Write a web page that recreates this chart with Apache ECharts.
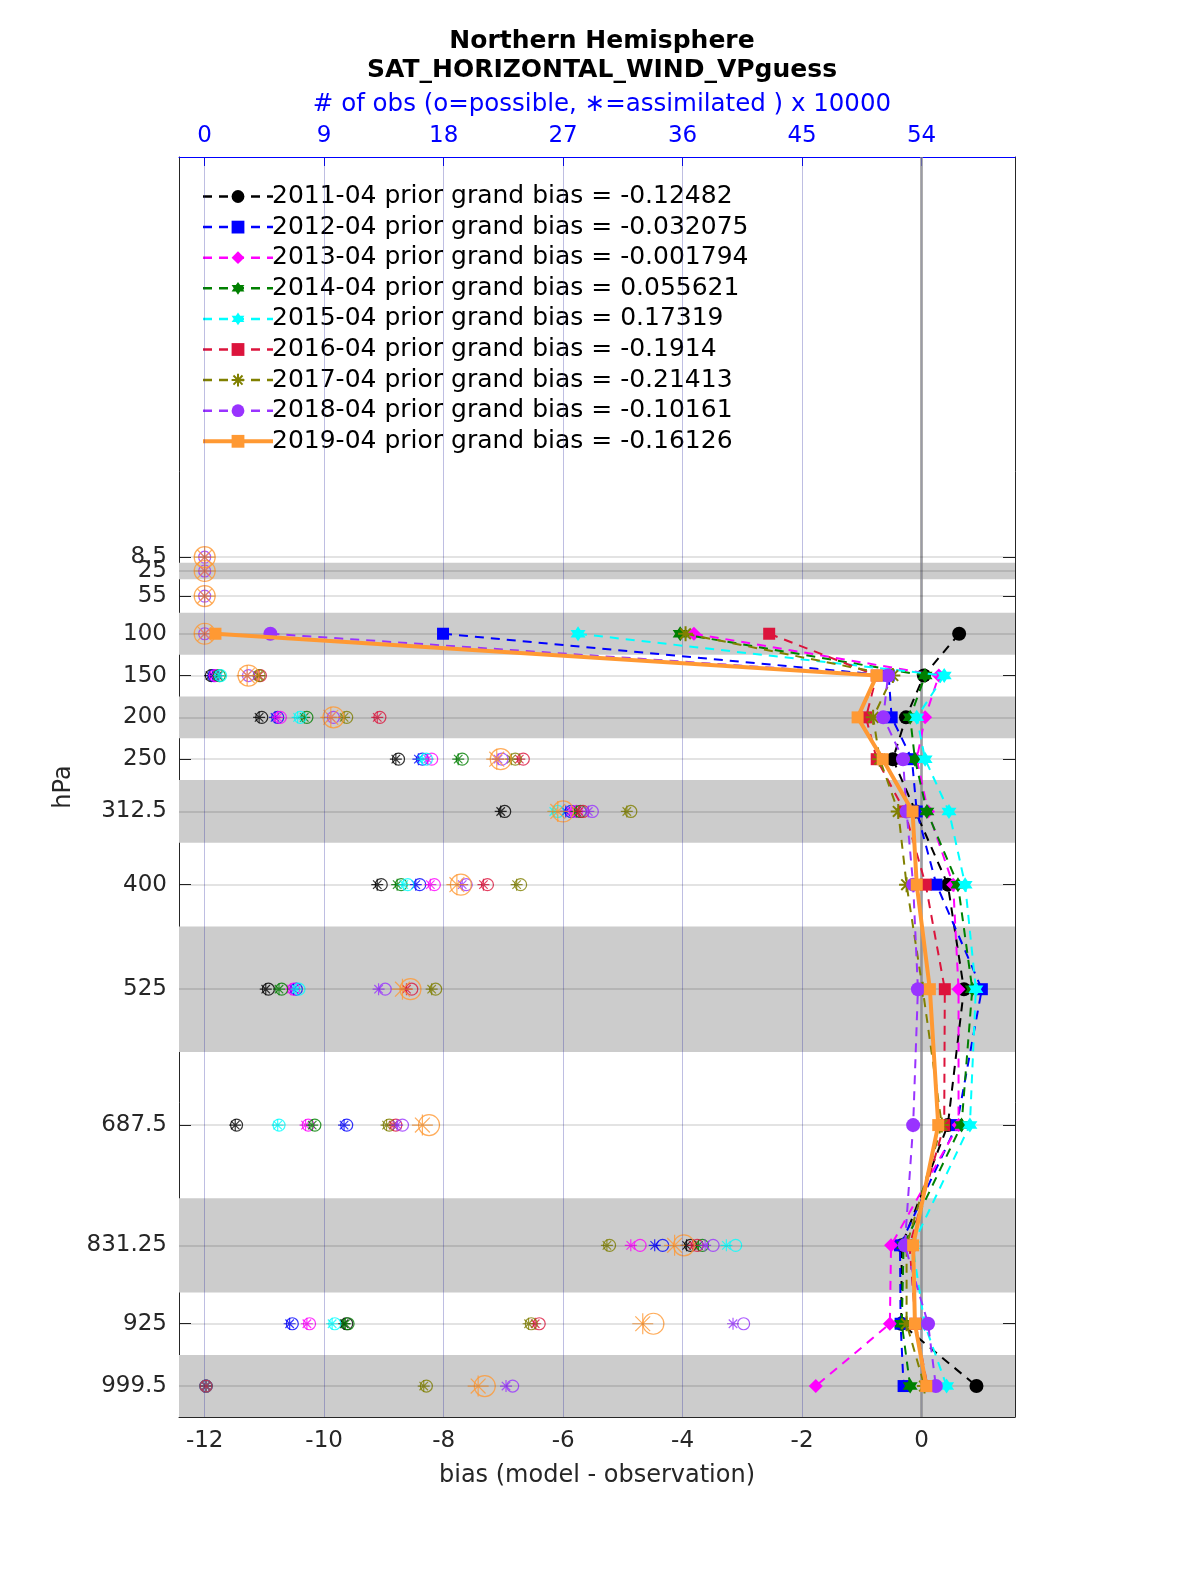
<!DOCTYPE html>
<html>
<head>
<meta charset="utf-8">
<script src="https://cdn.jsdelivr.net/npm/echarts@6/dist/echarts.min.js"></script>
<style>
html,body{margin:0;padding:0;background:#fff;}
#chart{width:1200px;height:1575px;}
</style>
</head>
<body>
<div id="chart"></div>
<script>
// ---------------- data ----------------
const levels = [8.5, 25, 55, 100, 150, 200, 250, 312.5, 400, 525, 687.5, 831.25, 925, 999.5];
const levelLabels = ['8.5', '25', '55', '100', '150', '200', '250', '312.5', '400', '525', '687.5', '831.25', '925', '999.5'];
const biasTicks = [-12, -10, -8, -6, -4, -2, 0];
const obsTicks = [0, 9, 18, 27, 36, 45, 54];
const layerBands = [[15, 35], [75, 125], [175, 225], [275, 350], [450, 600], [775, 887.5], [962.5, 1036.5]];

const years = ['2011-04', '2012-04', '2013-04', '2014-04', '2015-04', '2016-04', '2017-04', '2018-04', '2019-04'];
const grandBias = ['-0.12482', '-0.032075', '-0.001794', '0.055621', '0.17319', '-0.1914', '-0.21413', '-0.10161', '-0.16126'];

// bias (model - observation) per level
const bias2011 = [null, null, null, 0.63, 0.04, -0.26, -0.48, -0.10, 0.44, 0.71, 0.44, -0.33, -0.34, 0.92];
const bias2012 = [null, null, null, -8.01, -0.55, -0.50, -0.16, -0.08, 0.25, 1.01, 0.59, -0.36, -0.35, -0.30];
const bias2013 = [null, null, null, -3.81, 0.29, 0.06, -0.08, 0.11, 0.53, 0.62, 0.62, -0.51, -0.53, -1.77];
const bias2014 = [null, null, null, -4.04, 0.06, -0.19, -0.11, 0.09, 0.61, 0.85, 0.67, -0.30, -0.33, -0.19];
const bias2015 = [null, null, null, -5.75, 0.38, -0.08, 0.06, 0.46, 0.73, 0.91, 0.81, -0.15, 0.05, 0.42];
const bias2016 = [null, null, null, -2.55, -0.75, -0.93, -0.75, -0.28, 0.07, 0.39, 0.38, -0.20, -0.10, 0.10];
const bias2017 = [null, null, null, -3.95, -0.48, -0.81, -0.70, -0.39, -0.25, 0.02, 0.34, -0.25, -0.25, 0.05];
const bias2018 = [null, null, null, -10.90, -0.56, -0.64, -0.31, -0.25, -0.14, -0.06, -0.14, -0.28, 0.11, 0.24];
const bias2019 = [null, null, null, -11.82, -0.75, -1.07, -0.65, -0.15, -0.08, 0.14, 0.28, -0.14, -0.11, 0.08];

// number of observations (x 10000): possible (o)
const poss2011 = [null, null, null, null, 0.5, 4.3, 14.6, 22.6, 13.3, 4.8, 2.4, 36.6, 10.7, 0.1];
const poss2012 = [null, null, null, null, 0.7, 5.5, 16.4, 27.6, 16.2, 6.9, 10.7, 34.5, 6.6, 0.1];
const poss2013 = [null, null, null, null, 0.8, 5.7, 17.1, 28.0, 17.3, 6.7, 7.8, 32.8, 7.9, 0.1];
const poss2014 = [null, null, null, null, 1.1, 7.7, 19.4, 28.3, 14.8, 5.8, 8.3, 37.5, 10.8, 0.1];
const poss2015 = [null, null, null, null, 1.2, 7.2, 16.7, 26.6, 15.3, 7.1, 5.6, 40.0, 9.8, 0.1];
const poss2016 = [null, null, null, null, 4.2, 13.2, 24.0, 28.5, 21.3, 15.6, 14.4, 37.1, 25.2, 0.1];
const poss2017 = [null, null, null, null, 4.1, 10.7, 23.4, 32.1, 23.8, 17.4, 13.9, 30.5, 24.6, 16.7];
const poss2018 = [0, 0, 0, 0, 3.3, 9.7, 22.4, 29.2, 19.7, 13.6, 14.9, 38.3, 40.6, 23.2];
const poss2019 = [0, 0, 0, 0, 3.3, 9.7, 22.3, 27.0, 19.3, 15.5, 16.9, 36.1, 33.8, 21.1];

// number of observations (x 10000): assimilated (*)
const assim2011 = [null, null, null, null, 0.4, 4.1, 14.4, 22.3, 13.0, 4.6, 2.3, 36.3, 10.5, 0.1];
const assim2012 = [null, null, null, null, 0.6, 5.3, 16.1, 27.2, 15.9, 6.7, 10.5, 33.9, 6.4, 0.1];
const assim2013 = [null, null, null, null, 0.7, 5.5, 16.8, 27.6, 17.0, 6.5, 7.6, 32.1, 7.7, 0.1];
const assim2014 = [null, null, null, null, 1.0, 7.5, 19.1, 28.0, 14.5, 5.6, 8.1, 37.2, 10.6, 0.1];
const assim2015 = [null, null, null, null, 1.1, 7.0, 16.4, 26.3, 15.0, 6.9, 5.5, 39.3, 9.6, 0.1];
const assim2016 = [null, null, null, null, 4.1, 13.0, 23.7, 28.2, 21.0, 15.2, 14.2, 36.8, 24.9, 0.1];
const assim2017 = [null, null, null, null, 4.0, 10.5, 23.1, 31.8, 23.5, 17.1, 13.7, 30.3, 24.4, 16.5];
const assim2018 = [0, 0, 0, 0, 3.2, 9.5, 22.1, 28.9, 19.4, 13.1, 14.5, 37.7, 39.8, 22.7];
const assim2019 = [0, 0, 0, 0, 3.2, 9.5, 22.0, 26.6, 19.0, 14.9, 16.4, 35.4, 33.0, 20.6];

const biasSets = [bias2011, bias2012, bias2013, bias2014, bias2015, bias2016, bias2017, bias2018, bias2019];
const possSets = [poss2011, poss2012, poss2013, poss2014, poss2015, poss2016, poss2017, poss2018, poss2019];
const assimSets = [assim2011, assim2012, assim2013, assim2014, assim2015, assim2016, assim2017, assim2018, assim2019];

// ---------------- styles ----------------
const colors = ['#000000', '#0000ff', '#ff00ff', '#008000', '#00ffff', '#dc143c', '#808000', '#9933ff', '#ff9933'];
const hexagram = 'path://M0,-10L2.9,-5L8.7,-5L5.8,0L8.7,5L2.9,5L0,10L-2.9,5L-8.7,5L-5.8,0L-8.7,-5L-2.9,-5Z';
const asterisk = 'path://M0,-10L0,10M-10,0L10,0M-7.07,-7.07L7.07,7.07M-7.07,7.07L7.07,-7.07';
const markers = ['circle', 'rect', 'diamond', hexagram, hexagram, 'rect', asterisk, 'circle', 'rect'];
const markerSizes = [14, 12, 14, 15, 15, 12, 15, 14, 12];

const xMin = -12.43, xMax = 1.565;
const yMin = -470, yMax = 1036.5;
const obsPerBias = 4.5; // 9 (x10000) obs per 2 bias units, 0 obs at bias -12

const font = 'DejaVu Sans';
const txt = '#262626';
const legendNames = years.map((y, k) => y + ' prior grand bias = ' + grandBias[k]);

const series = [];

// background: layer bands, grid lines
series.push({
  name: '_bg', type: 'scatter', xAxisIndex: 0, yAxisIndex: 0, data: [], z: 1, silent: true,
  markArea: {
    silent: true,
    itemStyle: { color: '#cccccc' },
    data: layerBands.map(b => [{ yAxis: b[0] }, { yAxis: b[1] }])
  },
  markLine: {
    silent: true, symbol: ['none', 'none'], label: { show: false },
    animation: false,
    data: [
      ...biasTicks.map(v => ({ xAxis: v, lineStyle: { color: 'rgba(40,40,160,0.3)', width: 1, type: 'solid' } })),
      { xAxis: 0, lineStyle: { color: 'rgba(140,140,140,0.7)', width: 3, type: 'solid' } },
      ...levels.map(v => ({ yAxis: v, lineStyle: { color: 'rgba(0,0,0,0.15)', width: 1.5, type: 'solid' } }))
    ]
  }
});

years.forEach((y, k) => {
  const isLast = k === years.length - 1;
  const c = colors[k];
  const sym = markers[k];
  const isAst = sym === asterisk;
  series.push({
    name: legendNames[k],
    type: 'line',
    xAxisIndex: 0, yAxisIndex: 0,
    data: levels.map((p, i) => [biasSets[k][i], p]),
    z: 5 + k,
    symbol: sym,
    symbolSize: markerSizes[k],
    showAllSymbol: true,
    connectNulls: false,
    lineStyle: { color: c, width: isLast ? 4 : 2, type: isLast ? 'solid' : [9, 7] },
    itemStyle: isAst ? { color: 'none', borderColor: c, borderWidth: 2 } : { color: c, borderColor: c, borderWidth: 0 },
    emphasis: { disabled: true },
    animation: false
  });
});

years.forEach((y, k) => {
  const isLast = k === years.length - 1;
  const c = colors[k];
  const sz = isLast ? 21 : 12;
  series.push({
    name: '_poss' + k, type: 'scatter', xAxisIndex: 1, yAxisIndex: 0, z: 3 + k * 0.01,
    data: levels.map((p, i) => [possSets[k][i], p]).filter(d => d[0] !== null),
    symbol: 'circle', symbolSize: sz,
    itemStyle: { color: 'none', borderColor: c, borderWidth: 1.2 },
    emphasis: { disabled: true }, animation: false
  });
  series.push({
    name: '_assim' + k, type: 'scatter', xAxisIndex: 1, yAxisIndex: 0, z: 3 + k * 0.01,
    data: levels.map((p, i) => [assimSets[k][i], p]).filter(d => d[0] !== null),
    symbol: asterisk, symbolSize: sz, symbolKeepAspect: true,
    itemStyle: { color: 'none', borderColor: c, borderWidth: 1.2 },
    emphasis: { disabled: true }, animation: false
  });
});

const yLabelStyle = { fontFamily: font, fontSize: 23, color: txt, margin: 12 };

const chart = echarts.init(document.getElementById('chart'), null, { renderer: 'canvas' });
chart.setOption({
  backgroundColor: '#ffffff',
  animation: false,
  textStyle: { fontFamily: font },
  title: [
    { text: 'Northern Hemisphere', left: 597, textAlign: 'center', top: 24,
      textStyle: { fontFamily: font, fontSize: 25, fontWeight: 'bold', color: '#000' } },
    { text: 'SAT_HORIZONTAL_WIND_VPguess', left: 597, textAlign: 'center', top: 53,
      textStyle: { fontFamily: font, fontSize: 25, fontWeight: 'bold', color: '#000' } },
    { text: '# of obs (o=possible, \u2217=assimilated ) x 10000', left: 597, textAlign: 'center', top: 87,
      textStyle: { fontFamily: font, fontSize: 24.5, fontWeight: 'normal', color: '#0000ff' } }
  ],
  grid: { left: 179, top: 157, width: 836, height: 1260, show: false, containLabel: false },
  legend: {
    show: true,
    data: legendNames.map((n, k) => ({
      name: n,
      lineStyle: { width: k === years.length - 1 ? 4 : 2.5 }
    })),
    orient: 'vertical', left: 196, top: 179,
    itemWidth: 70, itemHeight: 16, itemGap: 5.6,
    textStyle: { fontFamily: font, fontSize: 25, color: '#000', padding: [0, 0, 0, -6] },
    backgroundColor: 'transparent', selectedMode: false
  },
  xAxis: [
    {
      type: 'value', position: 'bottom', min: xMin, max: xMax,
      name: 'bias (model - observation)', nameLocation: 'middle', nameGap: 47,
      nameTextStyle: { fontFamily: font, fontSize: 24, color: txt },
      axisLine: { show: true, onZero: false, lineStyle: { color: txt, width: 1 } },
      axisTick: { show: true, inside: true, length: 9, customValues: biasTicks, lineStyle: { color: txt } },
      axisLabel: { customValues: biasTicks, hideOverlap: false, fontFamily: font, fontSize: 23, color: txt, margin: 13 },
      splitLine: { show: false }
    },
    {
      type: 'value', position: 'top', min: (xMin + 12) * obsPerBias, max: (xMax + 12) * obsPerBias,
      axisLine: { show: true, onZero: false, lineStyle: { color: '#0000ff', width: 1 } },
      axisTick: { show: true, inside: true, length: 9, customValues: obsTicks, lineStyle: { color: '#0000ff' } },
      axisLabel: { customValues: obsTicks, hideOverlap: false, fontFamily: font, fontSize: 23, color: '#0000ff', margin: 9 },
      splitLine: { show: false }
    }
  ],
  yAxis: [
    {
      type: 'value', inverse: true, min: yMin, max: yMax, position: 'left',
      name: 'hPa', nameLocation: 'middle', nameGap: 101, nameRotate: 90,
      nameTextStyle: { fontFamily: font, fontSize: 24, color: txt },
      axisLine: { show: true, onZero: false, lineStyle: { color: txt, width: 1 } },
      axisTick: { show: true, inside: true, length: 12, customValues: levels, lineStyle: { color: txt } },
      axisLabel: Object.assign({ customValues: levels.slice(1), hideOverlap: false,
        formatter: v => levelLabels[levels.indexOf(v)] ?? String(v) }, yLabelStyle),
      splitLine: { show: false }
    },
    {
      type: 'value', inverse: true, min: yMin, max: yMax, position: 'right',
      axisLine: { show: true, onZero: false, lineStyle: { color: txt, width: 1 } },
      axisTick: { show: true, inside: true, length: 12, customValues: levels, lineStyle: { color: txt } },
      axisLabel: { show: false },
      splitLine: { show: false }
    },
    {
      // separate label track for the topmost level, whose label overlaps the next one
      type: 'value', inverse: true, min: yMin, max: yMax, position: 'left', offset: 0,
      axisLine: { show: false }, axisTick: { show: false }, splitLine: { show: false },
      axisLabel: Object.assign({ customValues: [levels[0]], hideOverlap: false,
        formatter: v => levelLabels[levels.indexOf(v)] ?? String(v) }, yLabelStyle)
    }
  ],
  series: series
});
</script>
</body>
</html>
